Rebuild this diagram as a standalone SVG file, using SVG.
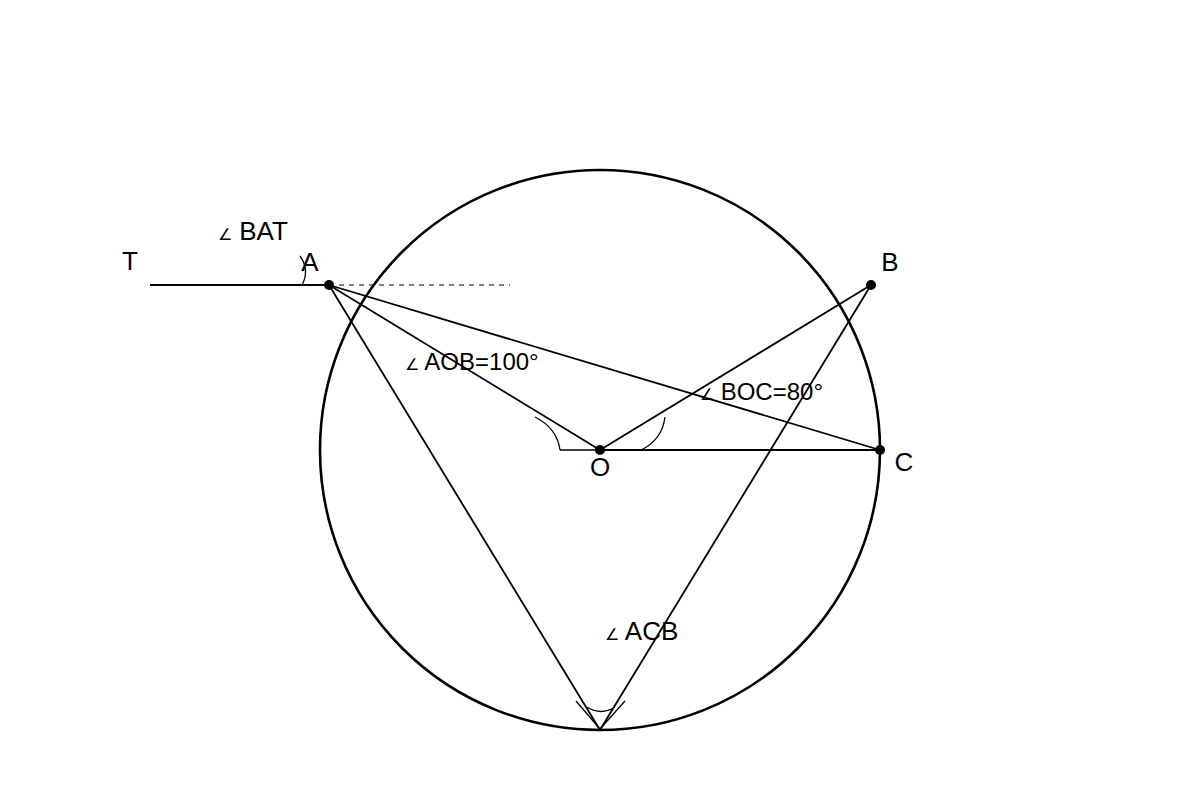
<svg xmlns="http://www.w3.org/2000/svg" width="1200" height="800" viewBox="0 0 1200 800">
<style>
.l{stroke:#000;stroke-width:1.8;fill:none}
.a{stroke:#000;stroke-width:1.3;fill:none}
.t{font-family:"Liberation Sans",Arial,sans-serif;font-size:24px;fill:#000}
.p{font-size:26px}
.s{font-size:16px}
</style>
<rect width="1200" height="800" fill="#fff"/>
<g id="circle"><circle cx="600" cy="450" r="280" fill="none" stroke="#000" stroke-width="2.6"/></g>
<g id="connectors">
<line class="l" x1="150" y1="285" x2="329" y2="285"/>
<line x1="329" y1="285" x2="510" y2="285" stroke="#000" stroke-width="1.1" stroke-dasharray="5,5"/>
<line class="l" x1="329" y1="285" x2="600" y2="450"/>
<line class="l" x1="600" y1="450" x2="871" y2="285"/>
<line class="l" x1="329" y1="285" x2="880" y2="450"/>
<line class="l" x1="600" y1="450" x2="880" y2="450"/>
<line class="l" x1="329" y1="285" x2="600" y2="730"/>
<line class="l" x1="871" y1="285" x2="600" y2="730"/>
<line class="a" x1="560" y1="450" x2="600" y2="450"/>
<path class="a" d="M535,417 Q557,428 560,450"/>
<path class="a" d="M665,417 Q662,440 641,450"/>
<path class="a" d="M300,256 Q310,270 302,285"/>
<line class="a" x1="576" y1="701" x2="600" y2="729"/>
<line class="a" x1="625" y1="701" x2="600" y2="729"/>
<path class="a" d="M587,707 Q601,716 615,707"/>
</g>
<g id="points">
<circle cx="329" cy="285" r="5"/>
<circle cx="871" cy="285" r="5"/>
<circle cx="600" cy="450" r="5"/>
<circle cx="880" cy="450" r="5"/>
</g>
<g id="labels">
<text class="t p" x="130" y="270" text-anchor="middle">T</text>
<text class="t p" x="310" y="271" text-anchor="middle">A</text>
<text class="t p" x="890" y="271" text-anchor="middle">B</text>
<text class="t p" x="904" y="471" text-anchor="middle">C</text>
<text class="t p" x="600" y="476" text-anchor="middle">O</text>
<text class="t p" x="218" y="240"><tspan class="s">∠</tspan> BAT</text>
<text class="t" x="405" y="370"><tspan class="s">∠</tspan> AOB=100°</text>
<text class="t" x="700" y="400"><tspan class="s">∠</tspan> BOC=80°</text>
<text class="t p" x="605" y="640"><tspan class="s">∠</tspan> ACB</text>
</g>
</svg>
